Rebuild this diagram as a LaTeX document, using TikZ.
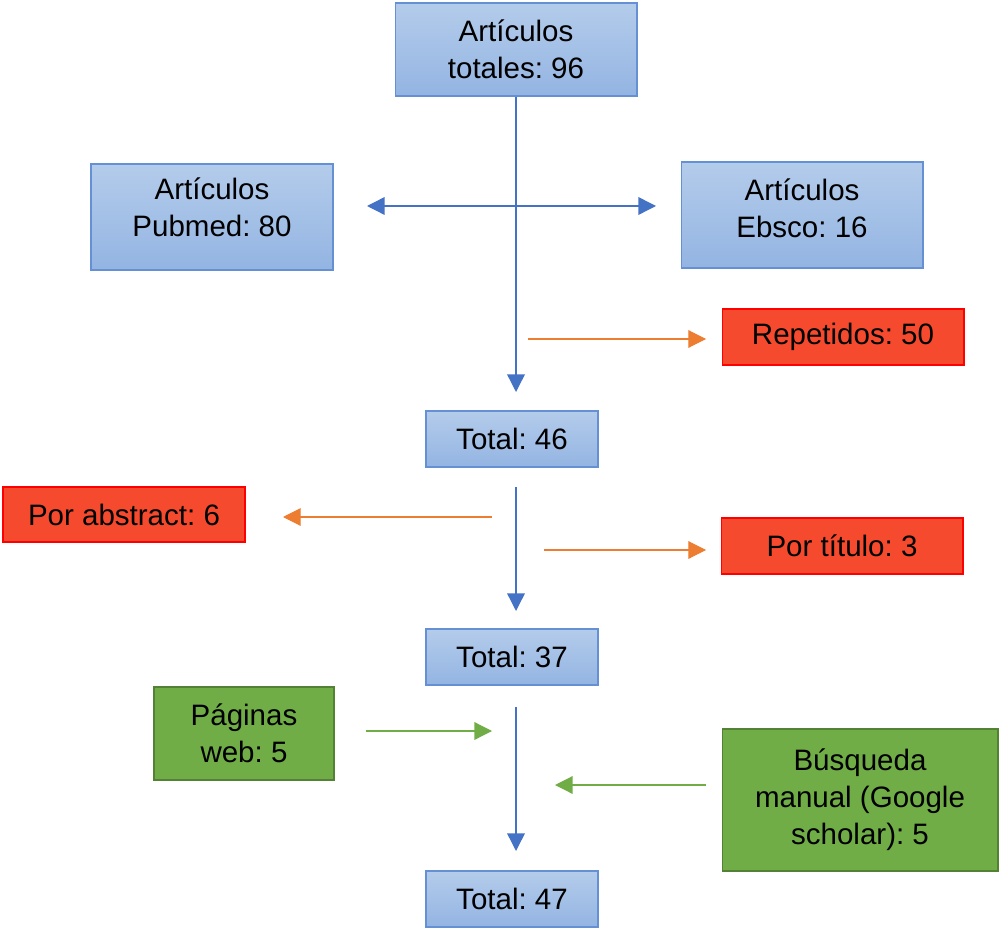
\documentclass[tikz,border=0pt]{standalone}
\usepackage{fontspec}
\setmainfont{Liberation Sans}
\usepackage{xcolor}
\usepackage{tikz}
\usetikzlibrary{arrows.meta}
\frenchspacing
\definecolor{azularriba}{HTML}{B4CCEB}
\definecolor{azulabajo}{HTML}{93B4E2}
\definecolor{bordeazul}{HTML}{6690D4}
\definecolor{flechaazul}{HTML}{4472C4}
\definecolor{rojo}{HTML}{F54A2D}
\definecolor{naranja}{HTML}{ED7D31}
\definecolor{verde}{HTML}{70AD47}
\definecolor{bordeverde}{HTML}{538135}
\tikzstyle{caja} = [line width=0.6pt,align=center,inner sep=0pt,font=\fontsize{16.8}{21}\selectfont]
\tikzstyle{azul} = [caja,draw=bordeazul,top color=azularriba,bottom color=azulabajo]
\tikzstyle{descarte} = [caja,draw=red,fill=rojo]
\tikzstyle{extra} = [caja,draw=bordeverde,fill=verde]
\tikzstyle{flecha} = [-{Triangle[length=10pt,width=10pt]}]

\begin{document}
\begin{tikzpicture}[x=0.02cm,y=-0.02cm]
	\useasboundingbox (0,0) rectangle (999,928);
	% Cajas azules (totales):
	\node [azul,minimum width=4.84cm,minimum height=1.86cm] (totales) at (516,49.5) {Artículos\\totales: 96};
	\node [azul,minimum width=4.84cm,minimum height=2.12cm,text depth=11.5pt] (pubmed) at (212,217) {Artículos\\Pubmed: 80};
	\node [azul,minimum width=4.84cm,minimum height=2.12cm,text depth=8pt] (ebsco) at (802,215) {Artículos\\Ebsco: 16};
	\node [azul,minimum width=3.44cm,minimum height=1.12cm] (total46) at (512,439) {Total: 46};
	\node [azul,minimum width=3.44cm,minimum height=1.12cm] (total37) at (512,657) {Total: 37};
	\node [azul,minimum width=3.44cm,minimum height=1.12cm] (total47) at (512,899) {Total: 47};
	% Descartes:
	\node [descarte,minimum width=4.84cm,minimum height=1.12cm] (repetidos) at (843,337) {Repetidos: 50};
	\node [descarte,minimum width=4.84cm,minimum height=1.1cm] (abstract) at (124,514.5) {Por abstract: 6};
	\node [descarte,minimum width=4.84cm,minimum height=1.12cm] (titulo) at (842,546) {Por título: 3};
	% Agregados:
	\node [extra,minimum width=3.6cm,minimum height=1.86cm] (paginas) at (244,733.5) {Páginas\\web: 5};
	\node [extra,minimum width=5.52cm,minimum height=2.84cm] (busqueda) at (860,800) {Búsqueda\\manual (Google\\scholar): 5};

	% Puntos sueltos de las flechas:
	\coordinate (f1) at (516,392);
	\coordinate (izq) at (367,206);
	\coordinate (der) at (656,206);
	\coordinate (r1) at (528,339);
	\coordinate (r2) at (706,339);
	\coordinate (f2a) at (516,487);
	\coordinate (f2b) at (516,611);
	\coordinate (a1) at (492,517);
	\coordinate (a2) at (283,517);
	\coordinate (t1) at (544,550);
	\coordinate (t2) at (706,550);
	\coordinate (f3a) at (516,707);
	\coordinate (f3b) at (516,851);
	\coordinate (p1) at (366,731);
	\coordinate (p2) at (492,731);
	\coordinate (b1) at (706,785);
	\coordinate (b2) at (555,785);

	% Flechas azules:
	\begin{scope}[flechaazul,line width=0.8pt]
		\draw [flecha] (totales.south -| f1) -- (f1);
		\draw [{Triangle[length=10pt,width=10pt]}-{Triangle[length=10pt,width=10pt]}] (izq) -- (der);
		\draw [flecha] (f2a) -- (f2b);
		\draw [flecha] (f3a) -- (f3b);
	\end{scope}
	% Flechas naranjas:
	\begin{scope}[naranja,line width=0.6pt]
		\draw [flecha] (r1) -- (r2);
		\draw [flecha] (a1) -- (a2);
		\draw [flecha] (t1) -- (t2);
	\end{scope}
	% Flechas verdes:
	\begin{scope}[verde,line width=0.7pt]
		\draw [flecha] (p1) -- (p2);
		\draw [flecha] (b1) -- (b2);
	\end{scope}
\end{tikzpicture}
\end{document}
